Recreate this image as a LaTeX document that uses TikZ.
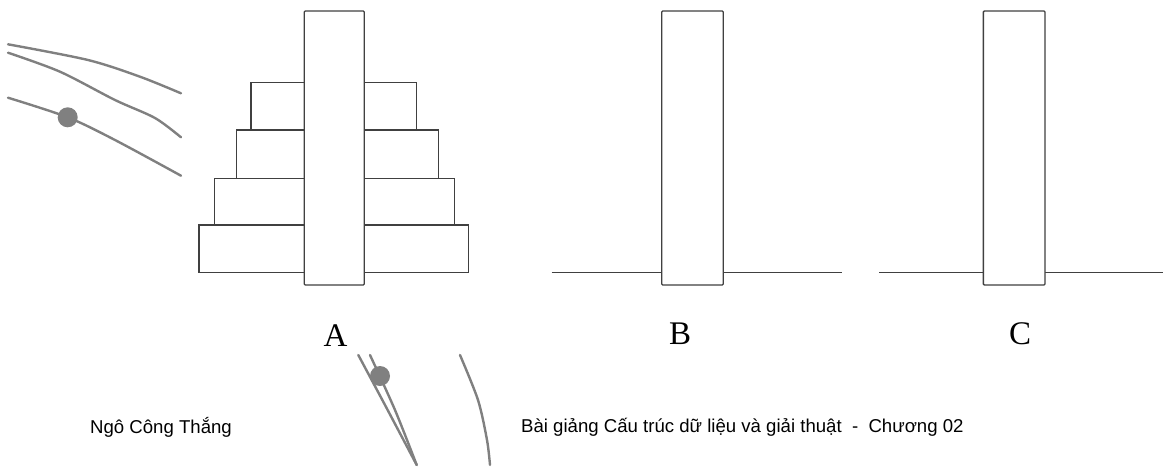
\documentclass[tikz,border=0pt]{standalone}
\usepackage{fontspec}
\setmainfont{Liberation Serif}
\newfontfamily\footfont{Liberation Sans}
\begin{document}
\begin{tikzpicture}[x=1pt,y=-1pt,
  peg/.style={draw=black!75,line width=1.3pt,fill=white,rounded corners=1pt,
    minimum width=60pt,minimum height=274pt,inner sep=0pt,outer sep=0pt},
  disk/.style={draw=black!75,line width=1.3pt,fill=white},
  base/.style={draw=black!75,line width=1.3pt},
  pegname/.style={font=\fontsize{33}{35}\selectfont,inner sep=0pt},
  foot/.style={font=\footfont\fontsize{18.6}{20}\selectfont,anchor=west,inner sep=0pt},
  swing/.style={draw=black!50,line width=2.4pt,line cap=round},
  knob/.style={fill=black!50,circle,inner sep=0pt,minimum size=20pt}]
\useasboundingbox (0,0) rectangle (1163,467);

% disks on peg A (largest at the bottom)
\draw[disk] (199,225) rectangle (468.3,272.7);
\draw[disk] (214.3,178.3) rectangle (454.3,225);
\draw[disk] (236.7,130) rectangle (438.3,178.3);
\draw[disk] (251,82.7) rectangle (416.7,130);

% base lines of pegs B and C
\coordinate (bL) at (551.7,272.7);
\coordinate (bR) at (841.7,272.7);
\coordinate (cL) at (879,272.7);
\coordinate (cR) at (1162.5,272.7);
\draw[base] (bL) -- (bR);
\draw[base] (cL) -- (cR);

% the three pegs
\node[peg] (pegA) at (334.2,148) {};
\node[peg,minimum width=61.6pt] (pegB) at (692.5,148) {};
\node[peg,minimum width=61.7pt] (pegC) at (1014.2,148) {};

% peg names
\node[pegname] (labA) at (335.5,335.5) {A};
\node[pegname] (labB) at (680,334) {B};
\node[pegname] (labC) at (1020,334) {C};

% pendulum strokes, top left
\draw[swing] plot[smooth] coordinates {(8,44.3) (88,60) (140,76.7) (181,93.3)};
\draw[swing] plot[smooth] coordinates {(8,52.7) (60,71.7) (115,100) (155,118) (181,137.3)};
\draw[swing] plot[smooth] coordinates {(8,97.7) (67.7,117.3) (115,140) (181,175.7)};
\node[knob] (knobL) at (67.7,117.3) {};

% pendulum strokes, bottom
\draw[swing] plot[smooth] coordinates {(358.3,355) (385,405) (416.7,465)};
\draw[swing] plot[smooth] coordinates {(370,355) (395,410) (416.7,465)};
\draw[swing] plot[smooth] coordinates {(460,355) (478,400) (487,440) (490,465)};
\node[knob] (knobB) at (380,376) {};

% footer
\node[foot] (author) at (90,427) {Ngô Công Thắng};
\node[foot] (course) at (521,427) {Bài giảng Cấu trúc dữ liệu và giải thuật \ - \ Chương 02};
\end{tikzpicture}
\end{document}
